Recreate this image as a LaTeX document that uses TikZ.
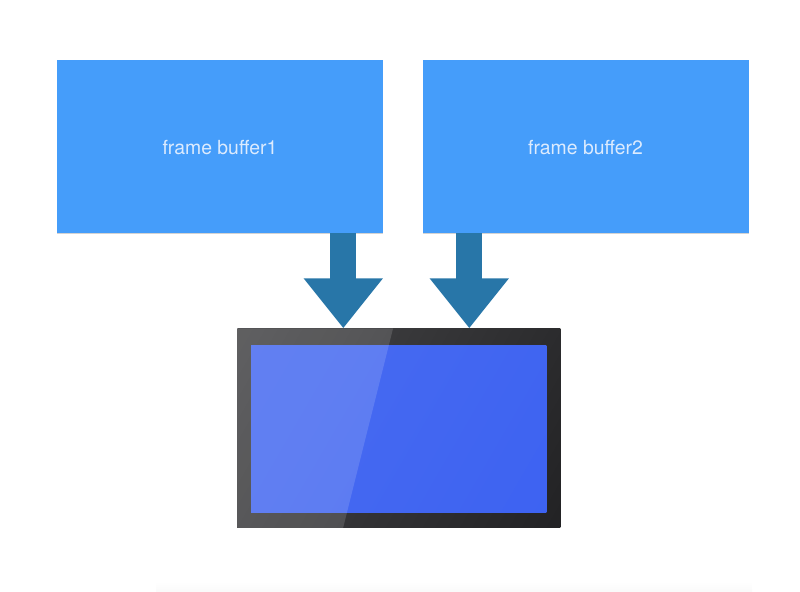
\documentclass[tikz,border=0pt]{standalone}
\usepackage{fontspec}
\setmainfont{TeX Gyre Heros}
\usetikzlibrary{positioning, arrows.meta, shadows}

\definecolor{bufferblue}{HTML}{459DFA}
\definecolor{arrowblue}{HTML}{2876A8}
\definecolor{labelblue}{HTML}{DCEBFE}
\definecolor{bezeltop}{HTML}{4E4E50}
\definecolor{bezelbot}{HTML}{1A1A1C}
\definecolor{screentop}{HTML}{4C6EF0}
\definecolor{screenbot}{HTML}{3A60F2}

\newcommand{\buflabel}[1]{\raisebox{-5.7pt}[0pt][0pt]{#1}}

\tikzset{
	buffer/.style={fill=bufferblue, text=labelblue, minimum width=8.15cm, minimum height=4.325cm, inner sep=0pt, font=\fontsize{13.8}{16}\selectfont, drop shadow={shadow xshift=0pt, shadow yshift=-1pt, opacity=.35}},
	monitor/.style={fill=bezeltop!50!bezelbot, minimum width=8.075cm, minimum height=4.975cm, inner sep=0pt, path picture={\shade[left color=bezeltop, right color=bezelbot, shading angle=60] (path picture bounding box.center) circle (7cm);}},
	screen/.style={fill=screentop!50!screenbot, minimum width=7.375cm, minimum height=4.19cm, inner sep=0pt, path picture={\shade[left color=screentop, right color=screenbot, shading angle=60] (path picture bounding box.center) circle (6.5cm);}},
	bigarrow/.style={draw=arrowblue, line width=.65cm, -{Triangle[length=1.25cm, width=1.9cm, fill=arrowblue]}},
}

\begin{document}
\begin{tikzpicture}
	\useasboundingbox (0,0) rectangle (20,-14.775);
	\shade[top color=white, bottom color=black!2] (3.9,-14.55) rectangle (18.8,-14.775);
	\node[buffer] (box1) at (5.5,-3.6625) {\buflabel{frame buffer1}};
	\node[buffer, right=.975cm of box1] (box2) {\buflabel{frame buffer2}};
	\node[monitor, below=2.375cm of box1.south east, xshift=.39cm] (mon) {};
	\node[screen, yshift=-.02cm] (scr) at (mon) {};
	\coordinate[xshift=3.9cm] (glosstop) at (mon.north west);
	\coordinate[xshift=2.65cm] (glossbot) at (mon.south west);
	\fill[white, opacity=.14] (mon.north west) -- (glosstop) -- (glossbot) -- (mon.south west) -- cycle;
	\coordinate[xshift=-1.39cm] (tip1) at (mon.north);
	\coordinate[xshift=1.76cm] (tip2) at (mon.north);
	\draw[bigarrow] (tip1 |- box1.south) -- (tip1);
	\draw[bigarrow] (tip2 |- box2.south) -- (tip2);
\end{tikzpicture}
\end{document}
